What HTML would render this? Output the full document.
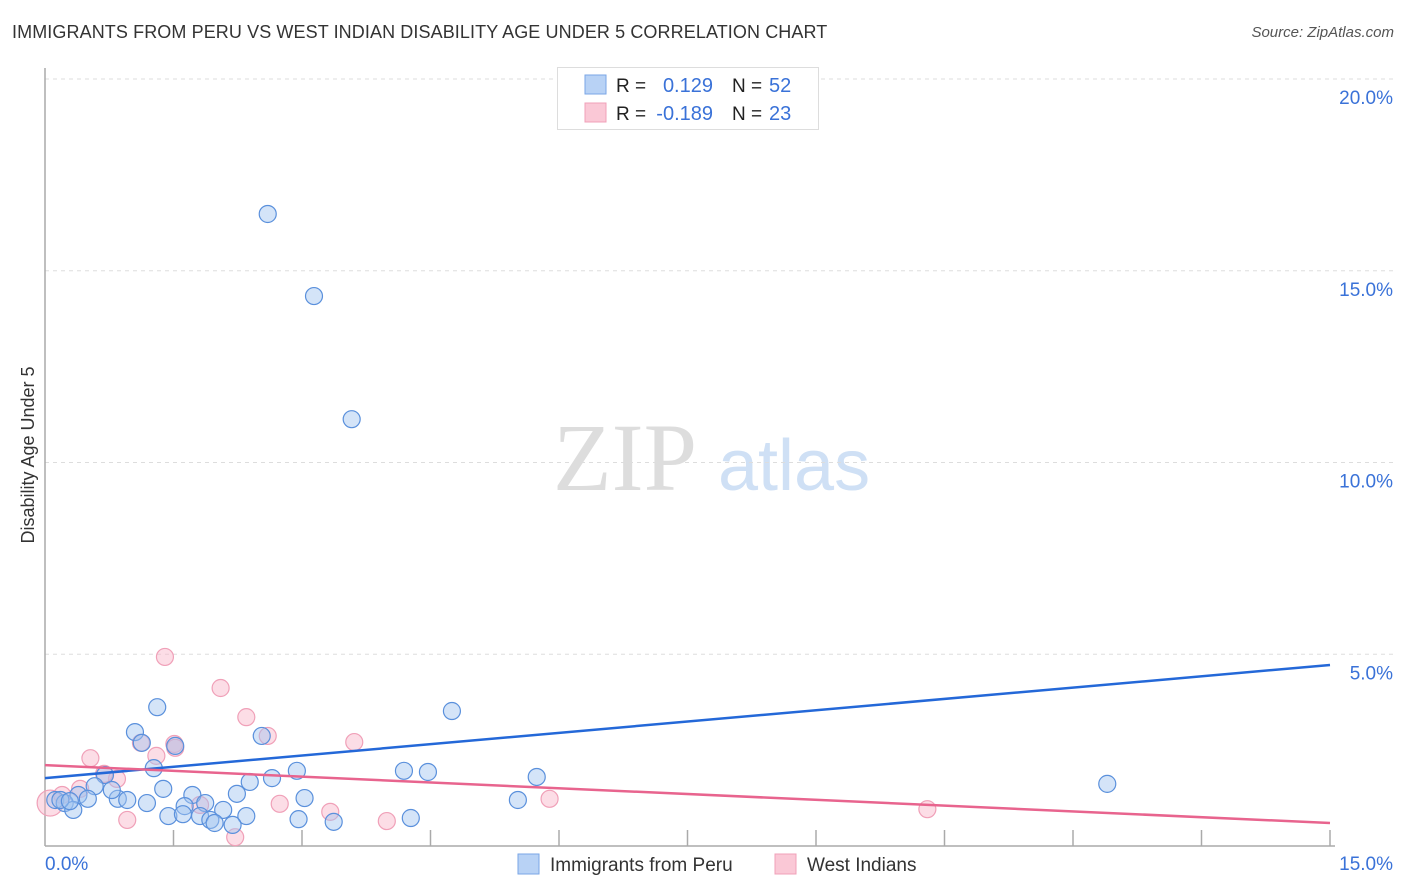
<!DOCTYPE html>
<html><head><meta charset="utf-8">
<style>
body{margin:0;background:#fff;font-family:"Liberation Sans",sans-serif;}
#wrap{position:relative;width:1406px;height:892px;overflow:hidden;}
.title{position:absolute;left:12px;top:22px;font-size:18px;color:#333;letter-spacing:0.1px}
.source{position:absolute;right:12px;top:24px;font-size:15px;color:#555;font-style:italic}
</style></head>
<body>
<div id="wrap">
<div class="title">IMMIGRANTS FROM PERU VS WEST INDIAN DISABILITY AGE UNDER 5 CORRELATION CHART</div>
<div class="source">Source: ZipAtlas.com</div>
<svg id="svg" width="1406" height="892" style="position:absolute;left:0;top:0"></svg>
</div>
<script>
const yTicks=[5,10,15,20];
const yTickLabels=["5.0%","10.0%","15.0%","20.0%"];
const xTicks=[1.5,3,4.5,6,7.5,9,10.5,12,13.5,15];
const blueX=[2.60,3.14,3.58,1.31,4.75,1.05,1.13,1.52,2.53,1.27,4.19,4.47,2.94,5.74,12.40,2.65,2.39,0.70,1.38,1.72,2.24,0.58,0.39,0.12,0.23,0.50,0.85,0.96,1.19,1.63,1.87,3.03,5.52,2.08,1.44,1.61,1.81,1.93,1.98,2.35,2.19,2.96,3.37,4.27,0.33,0.78,0.18,0.29];
const blueY=[16.48,14.34,11.13,3.62,3.52,2.97,2.69,2.61,2.87,2.03,1.96,1.93,1.96,1.80,1.62,1.77,1.67,1.85,1.49,1.33,1.36,1.56,1.33,1.20,1.12,1.23,1.23,1.20,1.12,1.04,1.12,1.25,1.20,0.94,0.78,0.83,0.78,0.68,0.60,0.78,0.55,0.70,0.63,0.73,0.94,1.46,1.20,1.17];
const pinkX=[1.40,2.05,2.35,2.60,3.61,1.51,1.12,0.53,1.30,0.84,0.69,0.41,0.20,1.81,2.74,3.33,3.99,5.89,10.30,0.96,2.22,1.52,0.06];
const pinkY=[4.93,4.12,3.36,2.87,2.71,2.66,2.69,2.29,2.35,1.75,1.88,1.49,1.33,1.07,1.10,0.89,0.65,1.23,0.96,0.68,0.23,2.56,1.12];
const blueTrend=[1.77,4.72];
const pinkTrend=[2.11,0.60];
const X0=45,X1=1330,Y0=846,PPY=38.35;
const sx=v=>X0+v*(X1-X0)/15;
const sy=v=>Y0-v*PPY;
const svg=document.getElementById('svg');
const NS='http://www.w3.org/2000/svg';
function mk(t,a){const e=document.createElementNS(NS,t);for(const k in a)e.setAttribute(k,a[k]);svg.appendChild(e);return e;}
// watermark
let w=mk('text',{x:553,y:490,'font-size':96,fill:'#ddd','font-family':'Liberation Serif,serif'});w.textContent='ZIP';


w=mk('text',{x:718,y:490,'font-size':72,fill:'#cfe0f5','font-family':'Liberation Sans,sans-serif'});w.textContent='atlas';


// grid + y labels
yTicks.forEach((v,i)=>{
 const g=mk('line',{x1:X0,x2:1393,y1:sy(v),y2:sy(v),stroke:'#ddd','stroke-dasharray':'4,4'});
 
 
 const t=mk('text',{x:1393,y:sy(v)+25,'text-anchor':'end','font-size':19,fill:'#3a72d8'});t.textContent=yTickLabels[i];
 
 
});
// axes
let a=mk('line',{x1:X0,x2:X0,y1:68,y2:Y0,stroke:'#aaa','stroke-width':1.5});


a=mk('line',{x1:X0,x2:X1+5,y1:Y0,y2:Y0,stroke:'#aaa','stroke-width':1.5});


xTicks.forEach(v=>{const t=mk('line',{x1:sx(v),x2:sx(v),y1:Y0-16,y2:Y0,stroke:'#aaa','stroke-width':1.5});
 
 });
let t=mk('text',{x:45,y:870,'font-size':19,fill:'#3a72d8'});t.textContent='0.0%';


t=mk('text',{x:1393,y:870,'font-size':19,fill:'#3a72d8','text-anchor':'end'});t.textContent='15.0%';


t=mk('text',{x:34,y:455,'font-size':18,fill:'#333','text-anchor':'middle',transform:'rotate(-90 34 455)'});t.textContent='Disability Age Under 5';


// points
pinkX.forEach((x,i)=>{const c=mk('circle',{cx:sx(x),cy:sy(pinkY[i]),r:(i==pinkX.length-1?13:8.5),fill:'rgba(248,180,200,0.45)',stroke:'#f0a0b8','stroke-width':1.2});
 
 });
blueX.forEach((x,i)=>{const c=mk('circle',{cx:sx(x),cy:sy(blueY[i]),r:8.5,fill:'rgba(160,195,240,0.45)',stroke:'#5a90dc','stroke-width':1.2});
 
 });
let l=mk('line',{x1:sx(0),x2:sx(15),y1:sy(blueTrend[0]),y2:sy(blueTrend[1]),stroke:'#2468d8','stroke-width':2.5});


l=mk('line',{x1:sx(0),x2:sx(15),y1:sy(pinkTrend[0]),y2:sy(pinkTrend[1]),stroke:'#e8648e','stroke-width':2.5});


// legend box
let r=mk('rect',{x:557.5,y:67.5,width:261,height:62,fill:'#fff',stroke:'#ddd'});


function row(y,fill,stroke,rv,nv,nm){
 const s=mk('rect',{x:585,y:y-10,width:21,height:19,fill:fill,stroke:stroke});
 
 
 let tx=mk('text',{x:616,y:y+7,'font-size':19,fill:'#222'});tx.textContent='R =';
 
 
 tx=mk('text',{x:713,y:y+7,'font-size':20,fill:'#3a72d8','text-anchor':'end'});tx.textContent=rv;
 
 
 tx=mk('text',{x:732,y:y+7,'font-size':19,fill:'#222'});tx.textContent='N =';
 
 
 tx=mk('text',{x:769,y:y+7,'font-size':20,fill:'#3a72d8'});tx.textContent=nv;
 
 
}
row(85,'#b8d2f5','#7aa6e6','0.129','52','peru');
row(113,'#fac8d6','#f0a0b8','-0.189','23','west-indians');
// bottom legend
function bl(x,fill,stroke,label,nm){
 const s=mk('rect',{x:x,y:854,width:21,height:20,fill:fill,stroke:stroke});
 
 
 const tx=mk('text',{x:x+32,y:871,'font-size':19,fill:'#333'});tx.textContent=label;
 
 
}
bl(518,'#b8d2f5','#7aa6e6','Immigrants from Peru','peru');
bl(775,'#fac8d6','#f0a0b8','West Indians','west-indians');
</script>
</body></html>
